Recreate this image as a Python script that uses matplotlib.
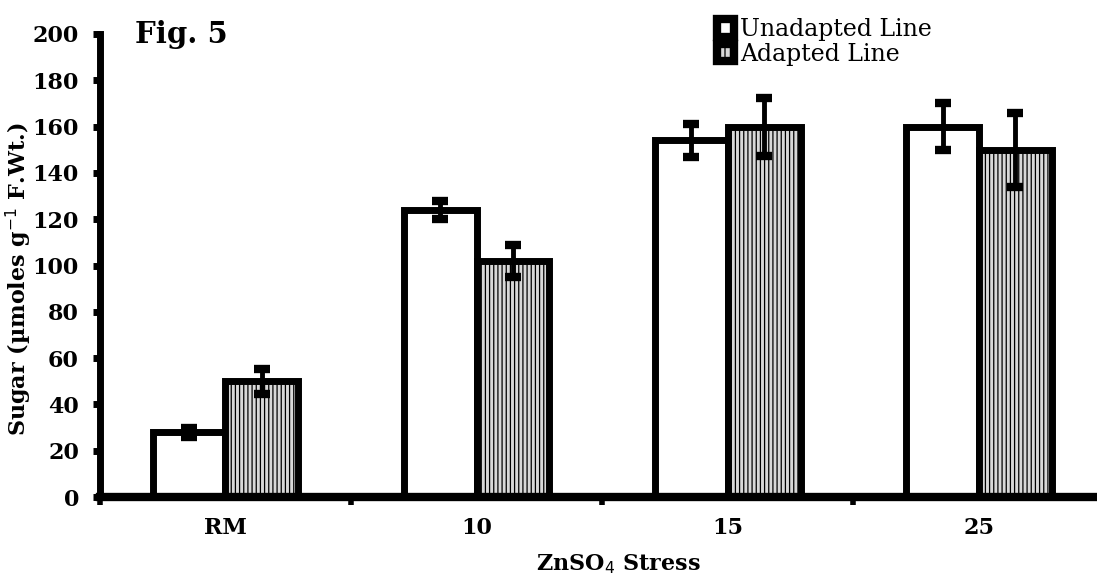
import numpy as np
import matplotlib
matplotlib.use("Agg")
import matplotlib.pyplot as plt

# Sugar content under ZnSO4 stress
categories = ['RM', '10', '15', '25']
unadapted = [28, 124, 154, 160]
unadapted_err = [2, 4, 7, 10]
adapted = [50, 102, 160, 150]
adapted_err = [5.5, 7, 12.5, 16]

plt.rcParams['font.family'] = ['DejaVu Serif']
plt.rcParams['hatch.linewidth'] = 0.9

fig = plt.figure(figsize=(10.97, 5.76), dpi=100)
ax = fig.add_axes([0.091, 0.137, 0.909, 0.804])

x = np.arange(len(categories))
w = 0.29
ax.bar(x - w / 2, unadapted, w, color='white', edgecolor='black', linewidth=5, zorder=2)
ax.bar(x + w / 2, adapted, w, color='#d8d8d8', edgecolor='black', linewidth=5,
       hatch='||||', zorder=2)
ax.errorbar(x - w / 2, unadapted, yerr=unadapted_err, fmt='none', ecolor='black',
            elinewidth=3.5, capsize=6, capthick=6, zorder=3)
ax.errorbar(x + w / 2, adapted, yerr=adapted_err, fmt='none', ecolor='black',
            elinewidth=3.5, capsize=6, capthick=6, zorder=3)

ax.set_xlim(-0.5, 3.47)
ax.set_ylim(0, 200)
ax.set_yticks(range(0, 201, 20))
ax.set_xticks(x)
ax.set_xticklabels(categories)
ax.set_xticks(np.arange(-0.5, 3.5, 1), minor=True)
ax.tick_params(axis='x', which='major', length=0, pad=14, labelsize=16)
ax.tick_params(axis='x', which='minor', length=6, width=4, direction='out')
ax.tick_params(axis='y', length=5, width=5, labelsize=16, pad=10)
for lab in ax.get_xticklabels() + ax.get_yticklabels():
    lab.set_fontweight('bold')

for s in ['top', 'right']:
    ax.spines[s].set_visible(False)
ax.spines['left'].set_linewidth(5)
ax.spines['bottom'].set_linewidth(6)

ax.set_ylabel('Sugar (µmoles g$^{-1}$ F.Wt.)', fontsize=16, fontweight='bold')
ax.yaxis.set_label_coords(-0.066, 0.47)
ax.set_xlabel('ZnSO$_4$ Stress', fontsize=16, fontweight='bold')
ax.xaxis.set_label_coords(0.52, -0.12)

fig.text(0.123, 0.925, 'Fig. 5', fontsize=21, fontweight='bold')

handles = [
    plt.Rectangle((0, 0), 1, 1, facecolor='white', edgecolor='black', linewidth=6),
    plt.Rectangle((0, 0), 1, 1, facecolor='#d8d8d8', edgecolor='black', linewidth=6, hatch='|||'),
]
fig.legend(handles, ['Unadapted Line', 'Adapted Line'], loc='upper left',
           bbox_to_anchor=(0.634, 1.005), frameon=False, fontsize=17,
           handlelength=0.75, handleheight=0.75, handletextpad=0.25, labelspacing=0.05)

fig.savefig('out.png', dpi=100)
